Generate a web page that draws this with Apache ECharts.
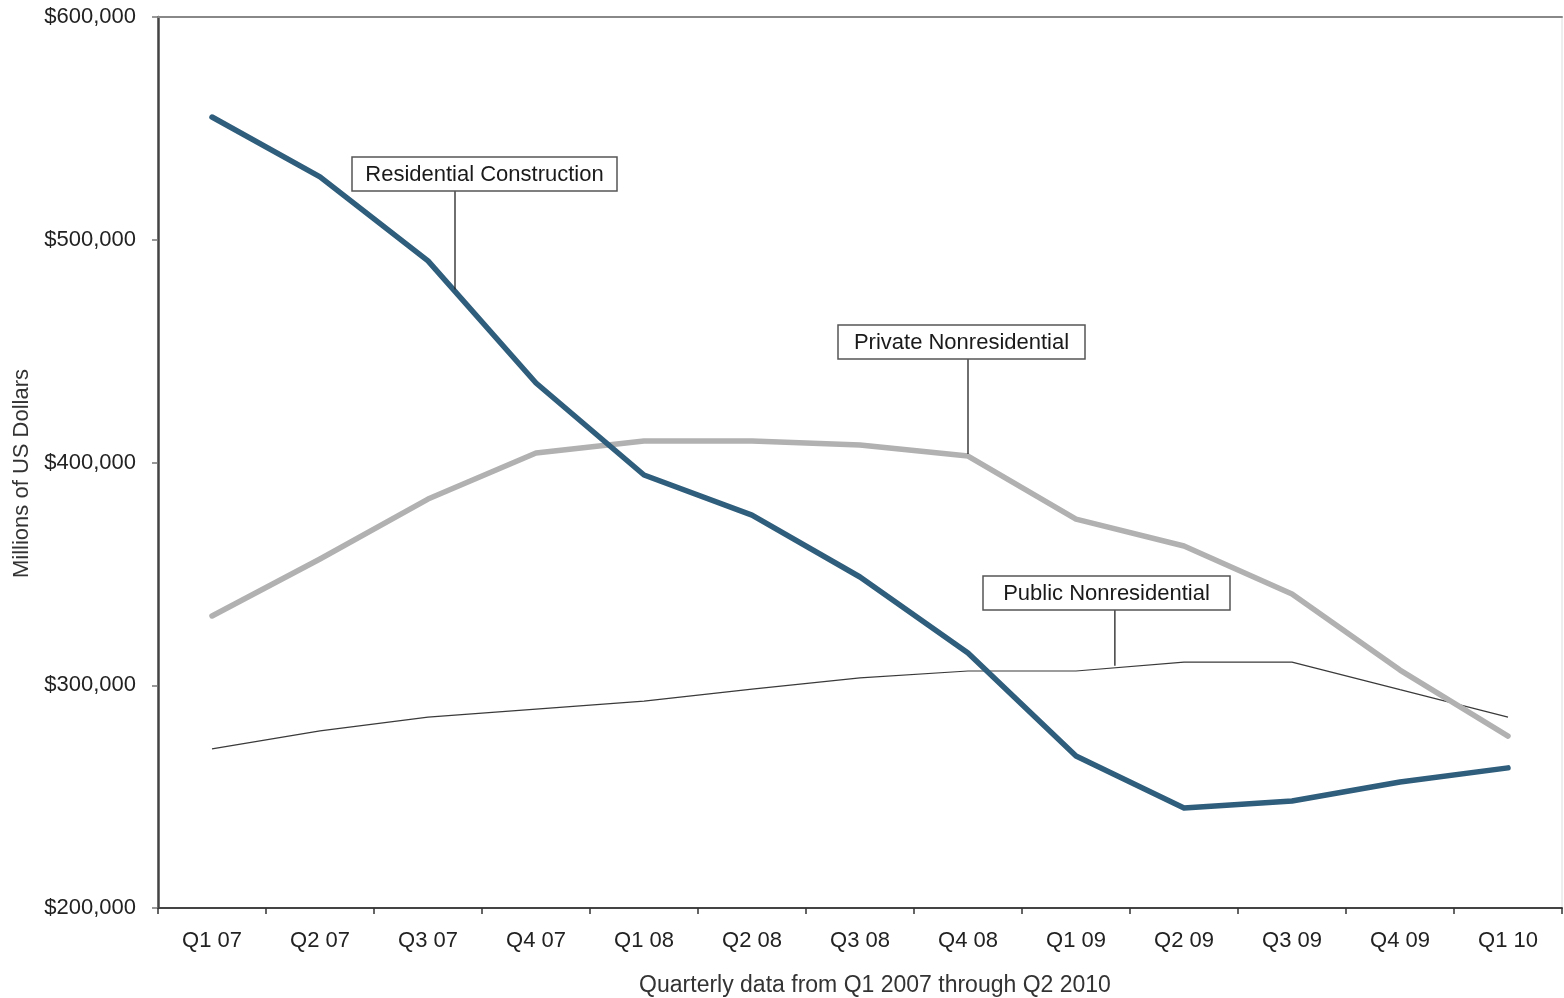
<!DOCTYPE html>
<html>
<head>
<meta charset="utf-8">
<script src="https://cdn.jsdelivr.net/npm/echarts@6/dist/echarts.min.js"></script>
<style>
  html, body { margin: 0; padding: 0; background: #fff; }
  #chart { width: 1564px; height: 998px; }
</style>
</head>
<body>
<div id="chart"></div>
<script>
// Quarterly construction spending, millions of US dollars
const quarters = ['Q1 07', 'Q2 07', 'Q3 07', 'Q4 07', 'Q1 08', 'Q2 08', 'Q3 08',
                  'Q4 08', 'Q1 09', 'Q2 09', 'Q3 09', 'Q4 09', 'Q1 10'];

const residential = [555100, 528200, 490500, 435700, 394400, 376400, 348600,
                     314500, 268200, 244900, 248000, 256600, 262900];

const privateNonres = [331100, 356700, 383600, 404300, 409700, 409700, 407900,
                       402900, 374600, 362500, 341000, 306800, 277200];

const publicNonres = [271400, 279500, 285700, 289300, 292900, 298300, 303300,
                      306400, 306400, 310400, 310400, 298000, 285700];

const yTicks = [200000, 300000, 400000, 500000, 600000];

// Callout labels: which series, which segment, and where the box sits
const callouts = [
  { text: 'Residential Construction', series: residential, idx: 2, frac: 0.25, boxLeft: 352, boxTop: 157, boxWidth: 265 },
  { text: 'Private Nonresidential',   series: privateNonres, idx: 7, frac: 0.0, boxLeft: 838, boxTop: 325, boxWidth: 247 },
  { text: 'Public Nonresidential',    series: publicNonres, idx: 8, frac: 0.36, boxLeft: 983, boxTop: 576, boxWidth: 247 }
];

const fontFamily = '"Liberation Sans", Arial, sans-serif';
const chart = echarts.init(document.getElementById('chart'), null, { renderer: 'canvas' });

const fmt = v => '$' + v.toLocaleString('en-US');

chart.setOption({
  animation: false,
  backgroundColor: '#fff',
  grid: {
    left: 158, right: 2, top: 17, bottom: 90,
    outerBoundsMode: 'none',
    show: true, borderColor: '#dcdcdc', borderWidth: 1, backgroundColor: 'transparent'
  },
  xAxis: [{
    type: 'category',
    data: quarters,
    boundaryGap: true,
    position: 'bottom',
    name: 'Quarterly data from Q1 2007 through Q2 2010',
    nameLocation: 'middle',
    nameGap: 66,
    nameTextStyle: {
      fontFamily, fontSize: 23, color: '#333',
      padding: [0, 0, 0, 30]
    },
    axisLine: { show: true, lineStyle: { color: '#444', width: 2 } },
    axisTick: { show: true, length: 6, lineStyle: { color: '#333', width: 1.5 }, alignWithLabel: false },
    axisLabel: { fontFamily, fontSize: 22, color: '#222', margin: 22 },
    splitLine: { show: false }
  }, {
    type: 'category',
    data: quarters,
    position: 'top',
    axisLine: { show: true, lineStyle: { color: '#888', width: 2 } },
    axisTick: { show: false },
    axisLabel: { show: false }
  }],
  yAxis: {
    type: 'value',
    min: yTicks[0],
    max: yTicks[yTicks.length - 1],
    interval: 100000,
    name: 'Millions of US Dollars',
    nameLocation: 'middle',
    nameGap: 124,
    nameRotate: 90,
    nameTextStyle: { fontFamily, fontSize: 22, color: '#333', letterSpacing: 1.1, padding: [0, 22, 0, 0] },
    axisLine: { show: true, lineStyle: { color: '#444', width: 2.5 } },
    axisTick: { show: true, length: 6, lineStyle: { color: '#777', width: 1.5 } },
    axisLabel: { fontFamily, fontSize: 22, color: '#222', margin: 22, formatter: fmt },
    splitLine: { show: false }
  },
  series: [{
    name: 'Public Nonresidential',
    type: 'line',
    data: publicNonres,
    symbol: 'none',
    lineStyle: { color: '#3a3a3a', width: 1.2 }
  }, {
    name: 'Private Nonresidential',
    type: 'line',
    data: privateNonres,
    symbol: 'none',
    lineStyle: { color: '#b1b1b1', width: 5.5, cap: 'round', join: 'round' }
  }, {
    name: 'Residential Construction',
    type: 'line',
    data: residential,
    symbol: 'none',
    lineStyle: { color: '#2f5d7c', width: 5.5, cap: 'round', join: 'round' }
  }]
});

// Boxed callouts with leader lines down to their series
function drawCallouts() {
  const elements = [];
  callouts.forEach(c => {
    const p0 = chart.convertToPixel({ gridIndex: 0 }, [c.idx, c.series[c.idx]]);
    const p1 = chart.convertToPixel({ gridIndex: 0 }, [c.idx + 1, c.series[c.idx + 1]]);
    const ax = p0[0] + (p1[0] - p0[0]) * c.frac;
    const ay = p0[1] + (p1[1] - p0[1]) * c.frac;
    const boxH = 34;
    elements.push({
      type: 'line',
      shape: { x1: ax, y1: c.boxTop + boxH, x2: ax, y2: ay - 2 },
      style: { stroke: '#222', lineWidth: 1.3 },
      z: 20
    });
    elements.push({
      type: 'rect',
      shape: { x: c.boxLeft, y: c.boxTop, width: c.boxWidth, height: boxH },
      style: { fill: '#fff', stroke: '#555', lineWidth: 1.5 },
      z: 21
    });
    elements.push({
      type: 'text',
      x: c.boxLeft + c.boxWidth / 2,
      y: c.boxTop + boxH / 2 + 1,
      style: {
        text: c.text, fill: '#1a1a1a', fontFamily, fontSize: 22, letterSpacing: 0.6,
        align: 'center', verticalAlign: 'middle'
      },
      z: 22
    });
  });
  chart.setOption({ graphic: elements });
}
drawCallouts();
</script>
</body>
</html>
